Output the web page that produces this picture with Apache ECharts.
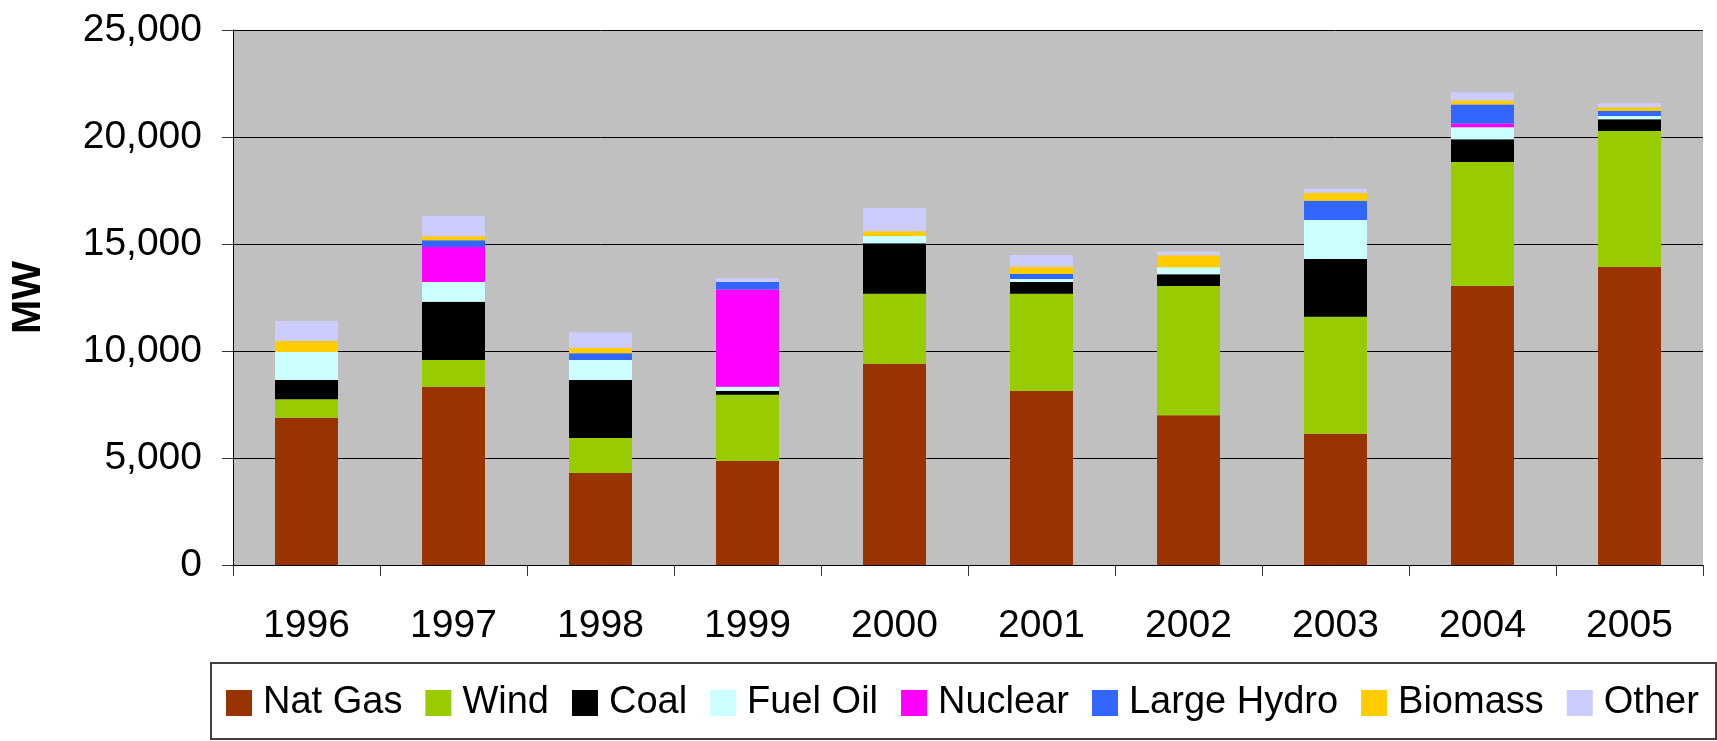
<!DOCTYPE html>
<html>
<head>
<meta charset="utf-8">
<script src="https://cdn.jsdelivr.net/npm/echarts@6/dist/echarts.min.js"></script>
<style>
  html, body { margin: 0; padding: 0; background: #fff; }
  #chart { width: 1717px; height: 741px; }
</style>
</head>
<body>
<div id="chart"></div>
<script>
// Annual capacity additions by fuel type (MW)
const years = ['1996', '1997', '1998', '1999', '2000', '2001', '2002', '2003', '2004', '2005'];

const natGas     = [6880, 8330, 4300, 4860, 9400, 8130, 7000, 6130, 13040, 13920];
const wind       = [870, 1250, 1630, 3090, 3270, 4540, 6040, 5470, 5790, 6360];
const coal       = [900, 2720, 2720, 180, 2360, 550, 550, 2700, 1070, 550];
const fuelOil    = [1300, 930, 930, 200, 340, 150, 320, 1820, 550, 150];
const nuclear    = [0, 1630, 0, 4540, 0, 0, 0, 0, 180, 0];
const largeHydro = [0, 320, 320, 350, 0, 230, 0, 900, 890, 230];
const biomass    = [520, 180, 250, 0, 220, 340, 570, 380, 180, 180];
const other      = [930, 960, 730, 180, 1090, 550, 180, 180, 390, 190];

const seriesNames = ['Nat Gas', 'Wind', 'Coal', 'Fuel Oil', 'Nuclear', 'Large Hydro', 'Biomass', 'Other'];
const seriesData = [natGas, wind, coal, fuelOil, nuclear, largeHydro, biomass, other];
const seriesColors = ['#993300', '#99CC00', '#000000', '#CCFFFF', '#FF00FF', '#3366FF', '#FFCC00', '#CCCCFF'];

const yMin = 0, yMax = 25000, yStep = 5000;
const font = "'Liberation Sans', Arial, Helvetica, sans-serif";

const chart = echarts.init(document.getElementById('chart'), null, { renderer: 'canvas' });

chart.setOption({
  animation: false,
  backgroundColor: '#ffffff',
  textStyle: { fontFamily: font, color: '#000' },
  grid: {
    left: 233, right: 14, top: 30, bottom: 176,
    show: true, backgroundColor: '#C0C0C0', borderWidth: 0
  },
  legend: {
    left: 226, top: 683, padding: 0,
    icon: 'rect', itemWidth: 26, itemHeight: 26, itemGap: 23,
    textStyle: { fontSize: 38, fontFamily: font, color: '#000', padding: [0, 0, 0, 6], lineHeight: 40 },
    data: seriesNames
  },
  graphic: [{
    type: 'rect',
    shape: { x: 211, y: 663, width: 1505, height: 76 },
    style: { fill: 'none', stroke: '#404040', lineWidth: 2 },
    silent: true
  }],
  xAxis: {
    type: 'category',
    data: years,
    axisLine: { show: true, lineStyle: { color: '#000', width: 1 } },
    axisTick: { show: true, alignWithLabel: false, length: 11, lineStyle: { color: '#333' } },
    axisLabel: { fontSize: 39, fontFamily: font, color: '#000', margin: 42 },
    splitLine: { show: false }
  },
  yAxis: {
    type: 'value',
    min: yMin, max: yMax, interval: yStep,
    name: 'MW',
    nameLocation: 'middle',
    nameRotate: 90,
    nameGap: 184,
    nameTextStyle: { fontSize: 41, fontWeight: 'bold', fontFamily: font, color: '#000' },
    axisLine: { show: true, lineStyle: { color: '#000', width: 1 } },
    axisTick: { show: true, length: 11, lineStyle: { color: '#333' } },
    axisLabel: {
      fontSize: 39, fontFamily: font, color: '#000', margin: 31,
      formatter: v => v.toLocaleString('en-US')
    },
    splitLine: { show: true, lineStyle: { color: '#000', width: 1 } }
  },
  series: seriesNames.map((name, i) => ({
    name: name,
    type: 'bar',
    stack: 'total',
    barWidth: 63,
    itemStyle: { color: seriesColors[i] },
    emphasis: { disabled: true },
    data: seriesData[i]
  }))
});
</script>
</body>
</html>
